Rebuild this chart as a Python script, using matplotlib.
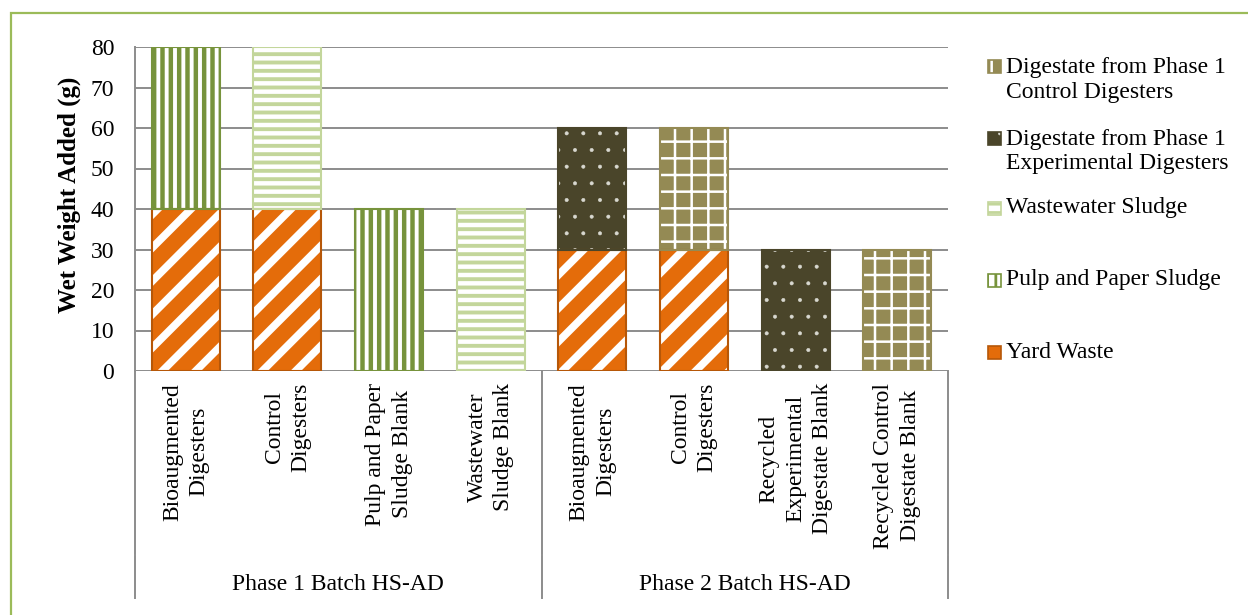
import numpy as np
import matplotlib
matplotlib.use("Agg")
import matplotlib.pyplot as plt
from matplotlib.patches import Rectangle
from matplotlib.transforms import blended_transform_factory

plt.rcParams['font.family'] = ['Liberation Serif', 'DejaVu Serif']
plt.rcParams['font.size'] = 17

# data: wet weight (g) added per digester type
categories = ["Bioaugmented\nDigesters", "Control\nDigesters",
              "Pulp and Paper\nSludge Blank", "Wastewater\nSludge Blank",
              "Bioaugmented\nDigesters", "Control\nDigesters",
              "Recycled\nExperimental\nDigestate Blank",
              "Recycled Control\nDigestate Blank"]
groups = ["Phase 1 Batch HS-AD", "Phase 2 Batch HS-AD"]
group_sizes = [4, 4]

yard_waste = [40, 40, 0, 0, 30, 30, 0, 0]
pulp_sludge = [40, 0, 40, 0, 0, 0, 0, 0]
ww_sludge = [0, 40, 0, 40, 0, 0, 0, 0]
dig_exp = [0, 0, 0, 0, 30, 0, 30, 0]
dig_ctrl = [0, 0, 0, 0, 0, 30, 0, 30]

series_names = ["Yard Waste", "Pulp and Paper Sludge", "Wastewater Sludge",
                "Digestate from Phase 1\nExperimental Digesters",
                "Digestate from Phase 1\nControl Digesters"]
series_vals = [yard_waste, pulp_sludge, ww_sludge, dig_exp, dig_ctrl]

# face colour, hatch colour, hatch, hatch width, edge colour
styles = [
    ("#E46C0A", "white", "/", 5.5, "#B65708"),
    ("white", "#77933C", "||", 3.2, "#77933C"),
    ("white", "#C3D69B", "--", 2.8, "#C3D69B"),
    ("#4A452A", "#D8D8D0", ".", 0.4, "#4A452A"),
    ("#948A54", "white", "+", 1.8, "#948A54"),
]

W, H = 1248, 615
fig = plt.figure(figsize=(W / 100, H / 100), dpi=100)
ax = fig.add_axes([135 / W, 1 - 371 / H, (948 - 135) / W, 324 / H])

x = np.arange(len(categories))
bottom = np.zeros(len(categories))
for vals, (fc, hc, hatch, hlw, ec) in zip(series_vals, styles):
    vals = np.array(vals, dtype=float)
    m = vals > 0
    bars = ax.bar(x[m], vals[m], bottom=bottom[m], width=0.67, color=fc,
                  edgecolor=hc, hatch=hatch, linewidth=0, zorder=3)
    for p in bars:
        p.set_hatch_linewidth(hlw)
    ax.bar(x[m], vals[m], bottom=bottom[m], width=0.67, fill=False,
           edgecolor=ec, linewidth=1.5, zorder=4)
    bottom += vals

ax.set_xlim(-0.5, len(categories) - 0.5)
ax.set_ylim(0, 80)
ax.set_yticks(np.arange(0, 81, 10))
ax.yaxis.grid(True, color="#8C8C8C", linewidth=1.4, zorder=0)
ax.set_axisbelow(True)
for s in ["top", "right", "bottom"]:
    ax.spines[s].set_visible(False)
ax.spines["left"].set_color("#8C8C8C")
ax.spines["left"].set_linewidth(1.4)
ax.tick_params(axis="y", length=0, pad=15)
fig.text(69 / W, 1 - 195 / H, "Wet Weight Added (g)", rotation=90,
         fontsize=18, fontweight="bold", ha="center", va="center")

ax.set_xticks(x)
ax.set_xticklabels(categories, rotation=90, ha="center", va="top",
                   multialignment="center", linespacing=1.35)
ax.tick_params(axis="x", length=0, pad=8.5)

# multi-level axis: separators and group names
trans = blended_transform_factory(ax.transData, ax.transAxes)
bounds = np.concatenate([[0], np.cumsum(group_sizes)]) - 0.5
for b in bounds:
    ax.plot([b, b], [0, -0.565], transform=trans, color="#8C8C8C",
            linewidth=1.4, clip_on=False)
    ax.plot([b, b], [-0.572, -0.701], transform=trans, color="#8C8C8C",
            linewidth=1.4, clip_on=False)
for g, lo, hi in zip(groups, bounds[:-1], bounds[1:]):
    ax.text((lo + hi) / 2, -0.66, g, transform=trans, ha="center",
            va="center")

# legend, top entry first
leg_text_y = [80, 151.5, 208, 280, 352]
leg_mark_y = [66, 138, 208, 280, 352]
for i, k in enumerate(range(len(series_names) - 1, -1, -1)):
    fc, hc, hatch, hlw, ec = styles[k]
    yc = 1 - leg_mark_y[i] / H
    mk = Rectangle((988 / W, yc - 6.5 / H), 13 / W, 13 / H,
                   transform=fig.transFigure, facecolor=fc,
                   edgecolor=hc, hatch=hatch, linewidth=0)
    mk.set_hatch_linewidth(min(hlw, 2.0))
    fig.patches.append(mk)
    fig.patches.append(Rectangle((988 / W, yc - 6.5 / H), 13 / W, 13 / H,
                                 transform=fig.transFigure, fill=False,
                                 edgecolor=ec, linewidth=1.2))
    fig.text(1006 / W, 1 - leg_text_y[i] / H, series_names[k], ha="left",
             va="center", linespacing=1.24)

# chart area border
fig.patches.append(Rectangle((11 / W, -0.1), 1.2, 1 - 13 / H + 0.1,
                             transform=fig.transFigure, fill=False,
                             edgecolor="#9BBB59", linewidth=1.6))

fig.savefig("out.png", dpi=100)
